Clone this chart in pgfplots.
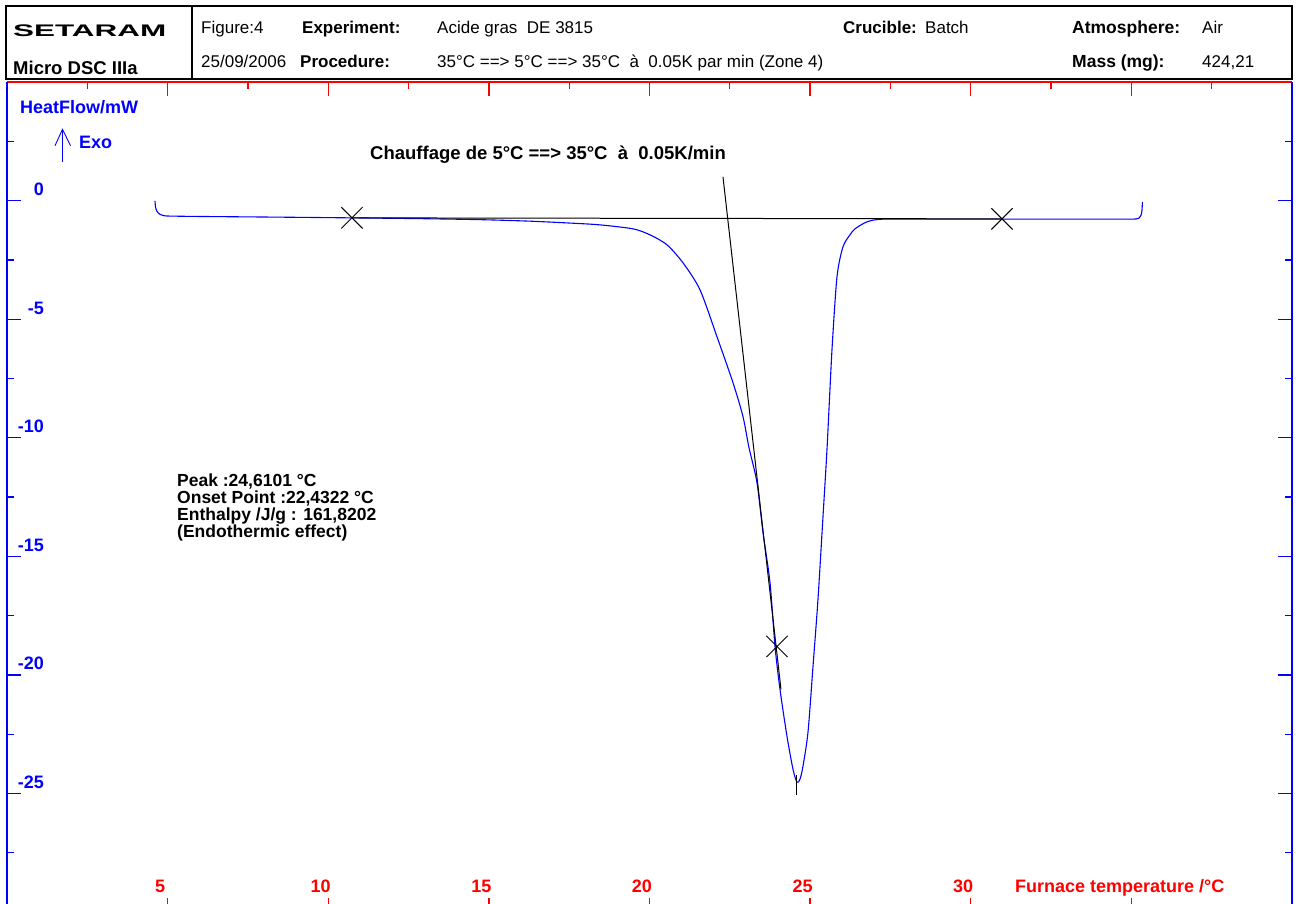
\documentclass[border=0pt]{standalone}
\usepackage{fontspec}
\setmainfont{Liberation Sans}
\usepackage{graphicx}
\usepackage{pgfplots}
\pgfplotsset{compat=1.18}
\newcommand{\fs}[1]{\fontsize{#1}{#1}\selectfont}

\pgfplotstableread{
x y
4.607 -0.013
4.623 -0.265
4.669 -0.455
4.763 -0.581
4.918 -0.644
5.200 -0.656
5.600 -0.664
6.008 -0.670
8.498 -0.699
10.739 -0.729
12.856 -0.762
14.724 -0.804
16.280 -0.868
17.525 -0.948
18.459 -1.024
19.486 -1.192
20.016 -1.445
20.545 -1.866
21.043 -2.624
21.572 -3.761
22.101 -5.741
22.599 -7.679
22.911 -9.111
23.097 -10.417
23.346 -11.891
23.533 -13.997
23.751 -16.103
23.907 -18.799
24.062 -20.610
24.280 -22.590
24.467 -23.979
24.591 -24.527
24.685 -24.400
24.778 -23.852
24.934 -22.420
25.090 -19.640
25.245 -16.818
25.401 -13.322
25.525 -10.500
25.681 -6.284
25.837 -3.210
26.023 -1.950
26.241 -1.445
26.397 -1.192
26.770 -0.897
27.268 -0.783
29.000 -0.783
30.911 -0.783
33.000 -0.783
34.500 -0.783
34.950 -0.783
35.150 -0.775
35.240 -0.735
35.300 -0.620
35.330 -0.420
35.345 -0.060
}\dsc

\begin{document}
\begin{tikzpicture}[x=1pt,y=1pt]
\useasboundingbox (0,0) rectangle (1298,-903);
% header box
\draw[line width=1.3pt] (6,-6) rectangle (1292,-79);
\draw[line width=1.3pt] (192,-6) -- (192,-79);
\node[anchor=base west, inner sep=0] at (13,-36.7) {\resizebox{153pt}{11.7pt}{\bfseries SETARAM}};
\node[anchor=base west, inner sep=0] at (13,-74) {\fs{18.5}\bfseries Micro DSC IIIa};
\begin{scope}[every node/.style={anchor=base west, inner sep=0, font=\fs{17}}]
\node at (201,-33) {Figure:4};
\node at (302,-33) {\bfseries Experiment:};
\node at (437,-33) {Acide gras~~DE 3815};
\node at (843,-33) {\bfseries Crucible:};
\node at (925,-33) {Batch};
\node at (1072,-33) {\bfseries\fs{17.5}Atmosphere:};
\node at (1202,-33) {Air};
\node at (201,-67.5) {25/09/2006};
\node at (300,-67.5) {\bfseries Procedure:};
\node at (437,-67.5) {35°C ==> 5°C ==> 35°C~~à~~0.05K par min (Zone 4)};
\node at (1072,-67.5) {\bfseries\fs{17.5}Mass (mg):};
\node at (1202,-67.5) {424,21};
\end{scope}

\begin{axis}[
  at={(7pt,-912pt)}, anchor=south west,
  scale only axis, width=1285pt, height=830pt,
  xmin=0, xmax=40, ymin=-30, ymax=5,
  separate axis lines,
  every outer x axis line/.append style={red, line width=1.5pt},
  every outer y axis line/.append style={blue, line width=1.8pt},
  tick align=inside,
  major tick length=14pt, minor tick length=7pt,
  xtick style={red, line width=1.3pt},
  ytick style={blue, line width=1.3pt},
  xtick={5,10,...,35},
  xticklabels={5,10,15,20,25,30,},
  minor xtick={2.5,7.5,...,37.5},
  ytick={-30,-25,...,5},
  yticklabels={,-25,-20,-15,-10,-5,0,},
  minor ytick={-27.5,-22.5,...,2.5},
  xticklabel style={text=red, font=\bfseries\fs{18}, anchor=south, inner sep=0pt, xshift=-7.5pt, yshift=19.5pt},
  yticklabel style={text=blue, font=\bfseries\fs{18}, anchor=south east, inner sep=0pt, xshift=37pt, yshift=4.5pt},
]
\addplot[blue, line width=1.1pt, line join=round, smooth, tension=0.45] table[x=x,y=y] {\dsc};
\addplot[black, line width=1pt] coordinates {(22.288,0.998) (24.093,-20.61)};
\addplot[black, line width=1pt] coordinates {(10.739,-0.729) (30.973,-0.771)};
\addplot[black, line width=1pt] coordinates {(24.591,-24.22) (24.591,-25.06)};
\addplot[only marks, mark=x, mark size=15pt, black, mark options={line width=0.9pt}] coordinates {(10.739,-0.729) (30.973,-0.771) (23.969,-18.799)};
\end{axis}

% labels inside plot
\node[anchor=base west, inner sep=0, text=blue, font=\bfseries\fs{18}] at (20,-113) {HeatFlow/mW};
\node[anchor=base west, inner sep=0, text=blue, font=\bfseries\fs{18}] at (79,-148) {Exo};
\draw[blue, line width=0.9pt] (62.5,-162) -- (62.5,-129.3);
\draw[blue, line width=0.9pt] (55,-145.7) -- (62.5,-129.3) -- (70.5,-145.7);
\node[anchor=base west, inner sep=0, text=red, font=\bfseries\fs{18}] at (1015,-892.5) {Furnace temperature /°C};
\node[anchor=base west, inner sep=0, font=\bfseries\fs{18.5}] at (370,-159.3) {Chauffage de 5°C ==> 35°C~~à~~0.05K/min};
\begin{scope}[every node/.style={anchor=base west, inner sep=0, font=\bfseries\fs{17.5}}]
\node at (177,-486) {Peak :24,6101 °C};
\node at (177,-503) {Onset Point :22,4322 °C};
\node at (177,-520) {Enthalpy /J/g : 161,8202};
\node at (177,-537) {(Endothermic effect)};
\end{scope}
\end{tikzpicture}
\end{document}
